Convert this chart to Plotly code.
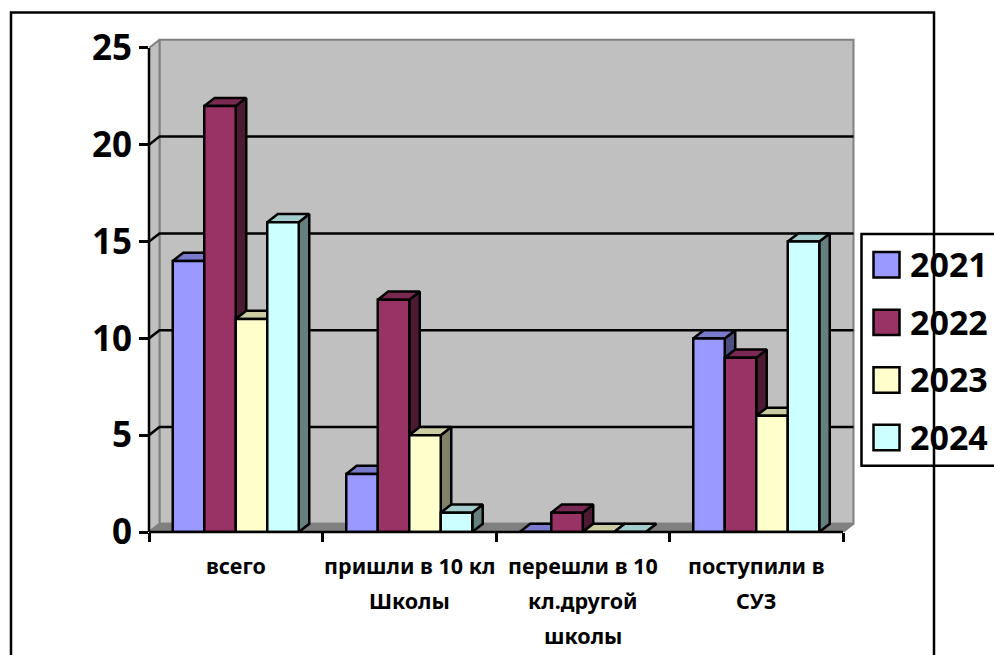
import plotly.graph_objects as go

CATEGORY_LINES = [["всего"], ["пришли в 10 кл", "Школы"], ["перешли в 10", "кл.другой", "школы"], ["поступили в", "СУЗ"]]
YEARS = ["2021", "2022", "2023", "2024"]
V2021 = [14, 3, 0, 10]
V2022 = [22, 12, 1, 9]
V2023 = [11, 5, 0, 6]
V2024 = [16, 1, 0, 15]
SERIES = [V2021, V2022, V2023, V2024]
FRONT = ["#9999FF", "#993366", "#FFFFCC", "#CCFFFF"]
TOP = ["#7A7ACC", "#7A2952", "#CCCCA3", "#A3CCCC"]
SIDE = ["#4D4D80", "#4D1A33", "#808066", "#668080"]
Y_TICKS = [0, 5, 10, 15, 20, 25]

W, H = 994, 655
L, R, T, B = 149, 855, 36.5, 532.5
SX, SY = 173.5, 19.4            # pixels per category / per unit
x_range = [-0.5, -0.5 + (R - L) / SX]
y_range = [0, (B - T) / SY]
DX, DY = 10.5 / SX, 8.2 / SY    # depth offset of the 3-D look
n = len(YEARS)
bar_w = 31.5 / SX
X0, X1 = -0.5, len(CATEGORY_LINES) - 0.5
WALL = "#C0C0C0"
EDGE = "#808080"
LW = 2.5


def px(v):
    return (v - L) / (R - L)


def py(v):
    return (B - v) / (B - T)


def poly(xs, ys, fill, line="black", width=LW):
    return go.Scatter(x=xs + xs[:1], y=ys + ys[:1], mode="lines", fill="toself", fillcolor=fill,
                      line=dict(color=line, width=width), hoverinfo="skip", showlegend=False)


fig = go.Figure()
# walls and floor
fig.add_trace(poly([X0 + DX, X1 + DX, X1 + DX, X0 + DX], [DY, DY, 25 + DY, 25 + DY], WALL, EDGE, 2))
fig.add_trace(poly([X0, X0 + DX, X0 + DX, X0], [0, DY, 25 + DY, 25], WALL, EDGE, 2))
fig.add_trace(poly([X0, X1, X1 + DX, X0 + DX], [0, 0, DY, DY], EDGE, EDGE, 2))
# grid lines
for v in Y_TICKS[1:-1]:
    fig.add_trace(go.Scatter(x=[X0, X0 + DX, X1 + DX], y=[v, v + DY, v + DY], mode="lines",
                             line=dict(color="black", width=LW), hoverinfo="skip", showlegend=False))
# tops and sides, left to right
for c in range(len(CATEGORY_LINES)):
    for i, vals in enumerate(SERIES):
        v = vals[c]
        x = c - n * bar_w / 2 + i * bar_w
        fig.add_trace(poly([x + bar_w, x + bar_w + DX, x + bar_w + DX, x + bar_w],
                           [0, DY, v + DY, v], SIDE[i]))
        fig.add_trace(poly([x, x + bar_w, x + bar_w + DX, x + DX],
                           [v, v, v + DY, v + DY], TOP[i]))
# front faces on an overlaid pair of axes, so they sit above the depth faces
for i, vals in enumerate(SERIES):
    fig.add_trace(go.Bar(x=list(range(len(vals))), y=vals, name=YEARS[i], xaxis="x2", yaxis="y2",
                         marker=dict(color=FRONT[i], line=dict(color="black", width=LW)),
                         showlegend=False))

shapes = [
    dict(type="line", xref="paper", yref="y", x0=0, x1=0, y0=0, y1=25, line=dict(color="black", width=LW)),
    dict(type="line", xref="x", yref="paper", x0=X0, x1=X1, y0=0, y1=0, line=dict(color="black", width=LW)),
    dict(type="rect", xref="paper", yref="paper", x0=px(861.5), x1=px(1010), y0=py(466), y1=py(234),
         fillcolor="white", line=dict(color="black", width=LW)),
]
annotations = []
legend_tops = [252, 309.7, 367.4, 425]
for i, year in enumerate(YEARS):
    t = legend_tops[i]
    shapes.append(dict(type="rect", xref="paper", yref="paper", x0=px(873.5), x1=px(899.5), y0=py(t + 25.5), y1=py(t),
                       fillcolor=FRONT[i], line=dict(color="black", width=LW)))
    annotations.append(dict(text=year, xref="paper", yref="paper", x=px(907.5), y=py(t + 12), xanchor="left", yanchor="middle",
                            showarrow=False, font=dict(family="Noto Sans", size=34, color="black", weight=700)))
shapes.append(dict(type="rect", xref="paper", yref="paper", x0=px(11), x1=px(934), y0=py(670), y1=py(12),
                   fillcolor="rgba(0,0,0,0)", line=dict(color="black", width=LW)))

line_centres = [566, 601, 636]
for c, lines in enumerate(CATEGORY_LINES):
    for j, text in enumerate(lines):
        annotations.append(dict(text=text, xref="x", yref="paper", x=c, y=py(line_centres[j]), xanchor="center", yanchor="middle",
                                showarrow=False, font=dict(family="Noto Sans", size=21.5, color="black", weight=700)))

fig.update_layout(
    width=W, height=H, margin=dict(l=L, r=W - R, t=T, b=H - B, pad=0),
    paper_bgcolor="white", plot_bgcolor="white", showlegend=False,
    barmode="group", bargap=1 - n * bar_w, bargroupgap=0,
    shapes=shapes, annotations=annotations,
    xaxis=dict(range=x_range, showgrid=False, zeroline=False, showline=False, showticklabels=False, ticks="",
               minor=dict(tickmode="array", tickvals=[X0 + k for k in range(len(CATEGORY_LINES) + 1)], ticks="outside",
                          ticklen=9, tickwidth=LW, tickcolor="black", showgrid=False)),
    yaxis=dict(range=y_range, showgrid=False, zeroline=False, showline=False, tickmode="array", tickvals=Y_TICKS,
               ticks="outside", ticklen=9, tickwidth=LW, tickcolor="black", ticklabelstandoff=0,
               tickfont=dict(family="Noto Sans", size=35, color="black", weight=700)),
    xaxis2=dict(range=x_range, overlaying="x", visible=False),
    yaxis2=dict(range=y_range, overlaying="y", visible=False),
)
fig.write_html("out.html", config={"displayModeBar": False},
               post_script="document.body.style.margin='0';document.body.style.overflow='hidden';")
